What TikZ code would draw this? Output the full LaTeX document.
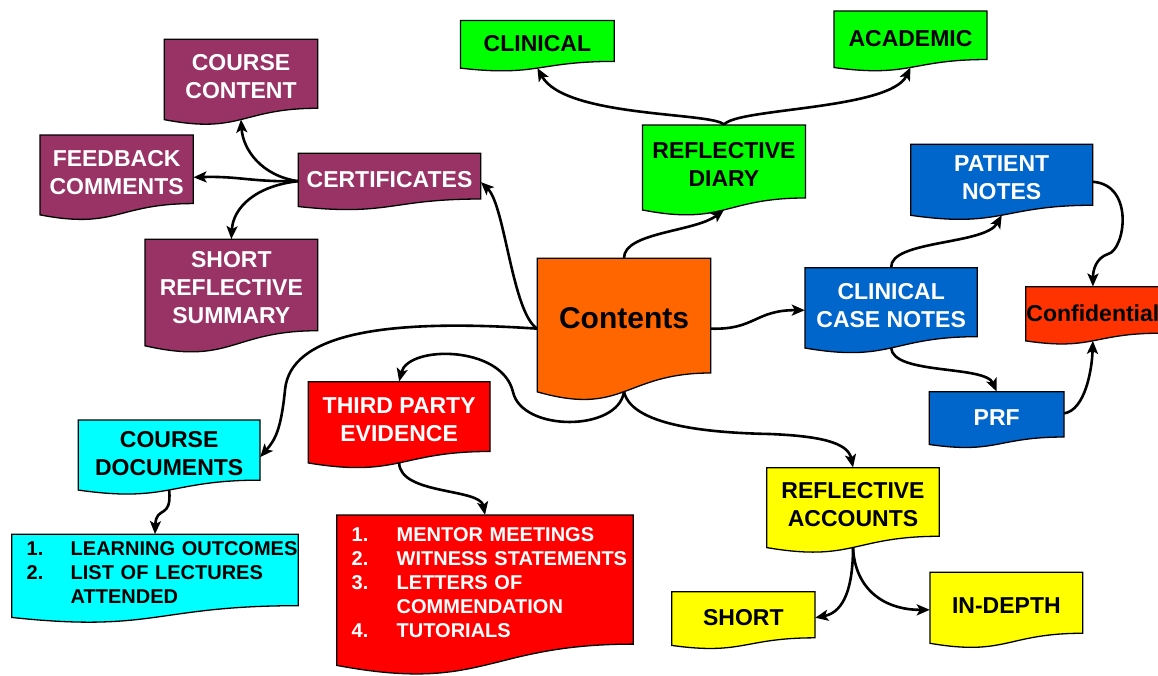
\documentclass[tikz,border=0pt]{standalone}
\usepackage{fontspec}
\setmainfont{Liberation Sans}
\usetikzlibrary{arrows.meta,calc}
\definecolor{cMaroon}{HTML}{993366}
\definecolor{cGreen}{HTML}{00FF00}
\definecolor{cBlue}{HTML}{0066CC}
\definecolor{cOrange}{HTML}{FF6600}
\definecolor{cRed}{HTML}{FF0000}
\definecolor{cCyan}{HTML}{00FFFF}
\definecolor{cYellow}{HTML}{FFFF00}
\definecolor{cConf}{HTML}{FF3300}
\tikzset{
  shp/.style={draw=black, line width=1.3pt},
  lbl/.style={font=\bfseries\fontsize{23}{28}\selectfont, align=center, inner sep=0pt},
  biglbl/.style={font=\bfseries\fontsize{30}{36}\selectfont},
  listlbl/.style={font=\bfseries\fontsize{20}{24}\selectfont, align=left},
  conn/.style={line width=2.6pt, -{Stealth[length=13pt,width=11pt,inset=3pt]}},
}
% #1 name, #2 x1, #3 top, #4 x2, #5 height, #6 fill, #7 label options, #8 text
\newcommand\docnode[8]{%
  \path[shp, fill=#6] (#2,#3) -- (#4,#3) -- (#4,{#3+0.802*#5})
    .. controls ({(#2+#4)/2},{#3+0.802*#5}) and ({(#2+#4)/2},{#3+1.107*#5}) .. (#2,{#3+0.934*#5}) -- cycle;
  \node[lbl,#7,minimum width={(#4-#2)*1pt},minimum height={(0.802*#5+6)*1pt}] (#1) at ({(#2+#4)/2},{#3+0.401*#5+3}) {#8};
  \coordinate (#1-b) at ({(#2+#4)/2},{#3+0.933*#5});
}
\newcommand\lowered[1]{\raisebox{-2pt}[\height][\depth]{#1}}
\begin{document}
\begin{tikzpicture}[x=1pt,y=-1pt]
\useasboundingbox (0,0) rectangle (1158,675);
\clip (0,0) rectangle (1158,675);

\docnode{cc}{164.3}{39.3}{317.7}{86}{cMaroon}{white}{COURSE\\CONTENT}
\docnode{cert}{298.3}{153.3}{480.7}{57}{cMaroon}{white}{CERTIFICATES}
\docnode{fb}{40}{135}{193.3}{85.5}{cMaroon}{white}{FEEDBACK\\COMMENTS}
\docnode{srs}{145}{239.3}{317.7}{114}{cMaroon}{white}{SHORT\\REFLECTIVE\\SUMMARY}
\docnode{clin}{460.5}{20.5}{614.3}{51}{cGreen}{black}{CLINICAL}
\docnode{acad}{834}{11}{987}{60.5}{cGreen}{black}{ACADEMIC}
\docnode{diary}{642.5}{125}{805.4}{91}{cGreen}{black}{REFLECTIVE\\DIARY}
\docnode{cont}{537.3}{258.3}{710.7}{143}{cOrange}{black,biglbl}{Contents}
\docnode{pn}{910.7}{144.3}{1092.7}{76}{cBlue}{white}{PATIENT\\NOTES}
\docnode{ccn}{805}{267.7}{977.3}{86}{cBlue}{white}{CLINICAL\\CASE NOTES}
\docnode{conf}{1025.7}{286.7}{1160}{58}{cConf}{black}{Confidential}
\docnode{prf}{929.3}{391.7}{1064}{56.5}{cBlue}{white}{PRF}
\docnode{ra}{766.7}{467.7}{939.3}{85.5}{cYellow}{black}{REFLECTIVE\\ACCOUNTS}
\docnode{short}{671.7}{591.7}{815}{57.5}{cYellow}{black}{SHORT}
\docnode{indepth}{930}{572.3}{1082.7}{76}{cYellow}{black}{IN-DEPTH}
\docnode{tp}{308.3}{381.7}{490}{87}{cRed}{white}{THIRD PARTY\\EVIDENCE}
\docnode{cdoc}{78.3}{420}{260}{75}{cCyan}{black}{COURSE\\DOCUMENTS}
\docnode{cyl}{11.7}{534.3}{298.3}{89}{cCyan}{black,listlbl,text width=256.6pt}{%
  \lowered{\begin{tabular}{@{}p{44pt}@{}l@{}}1.&LEARNING OUTCOMES\\2.&LIST OF LECTURES\\&ATTENDED\end{tabular}}}
\docnode{redl}{336.7}{515}{633.3}{161}{cRed}{white,listlbl,text width=266.6pt}{%
  \lowered{\begin{tabular}{@{}p{45pt}@{}l@{}}1.&MENTOR MEETINGS\\2.&WITNESS STATEMENTS\\3.&LETTERS OF\\&COMMENDATION\\4.&TUTORIALS\end{tabular}}}

% connectors
\draw[conn] (cont.north) .. controls (624,232) and (695,232) .. (diary-b);
\draw[conn] (diary.north) .. controls (715,112) and (565,118) .. (clin-b);
\draw[conn] (diary.north) .. controls (735,108) and (890,110) .. (acad-b);
\draw[conn] ([yshift=-10pt]cont.west) .. controls (380,318) and (290,335) .. (285,390) .. controls (281,430) and (275,440) .. ([yshift=-4pt]cdoc.east);
\draw[conn] ([yshift=-10pt]cont.west) .. controls (512,312) and (505,205) .. ([yshift=-3pt]cert.east);
\draw[conn] ([yshift=-2pt]cert.west) .. controls (262,176) and (243,150) .. (cc-b);
\draw[conn] ([yshift=-2pt]cert.west) .. controls (250,182) and (240,176) .. ([yshift=-5pt]fb.east);
\draw[conn] ([yshift=-2pt]cert.west) .. controls (255,186) and (233,208) .. (srs.north);
\draw[conn] (cont-b) .. controls (618,432) and (522,432) .. (513,392) .. controls (502,345) and (408,345) .. (tp.north);
\draw[conn] (cont-b) .. controls (632,428) and (720,433) .. (770,434) .. controls (818,436) and (848,442) .. (ra.north);
\draw[conn] ([yshift=-10pt]cont.east) .. controls (755,330) and (755,310) .. ([yshift=-5pt]ccn.west);
\draw[conn] (ccn.north) .. controls (890,240) and (985,245) .. (pn-b);
\draw[conn] ([yshift=-4pt]pn.east) .. controls (1135,185) and (1125,250) .. (1108,254) .. controls (1096,258) and (1093,270) .. (conf.north);
\draw[conn] (ccn-b) .. controls (893,375) and (985,365) .. (prf.north);
\draw[conn] ([yshift=4pt]prf.east) .. controls (1085,410) and (1092,370) .. (conf-b);
\draw[conn] (ra-b) .. controls (853,585) and (845,612) .. (short.east);
\draw[conn] (ra-b) .. controls (855,590) and (885,610) .. ([yshift=-4pt]indepth.west);
\draw[conn] (tp-b) .. controls (400,495) and (480,488) .. (redl.north);
\draw[conn] (cdoc-b) .. controls (172,520) and (156,505) .. (cyl.north);
\end{tikzpicture}
\end{document}
